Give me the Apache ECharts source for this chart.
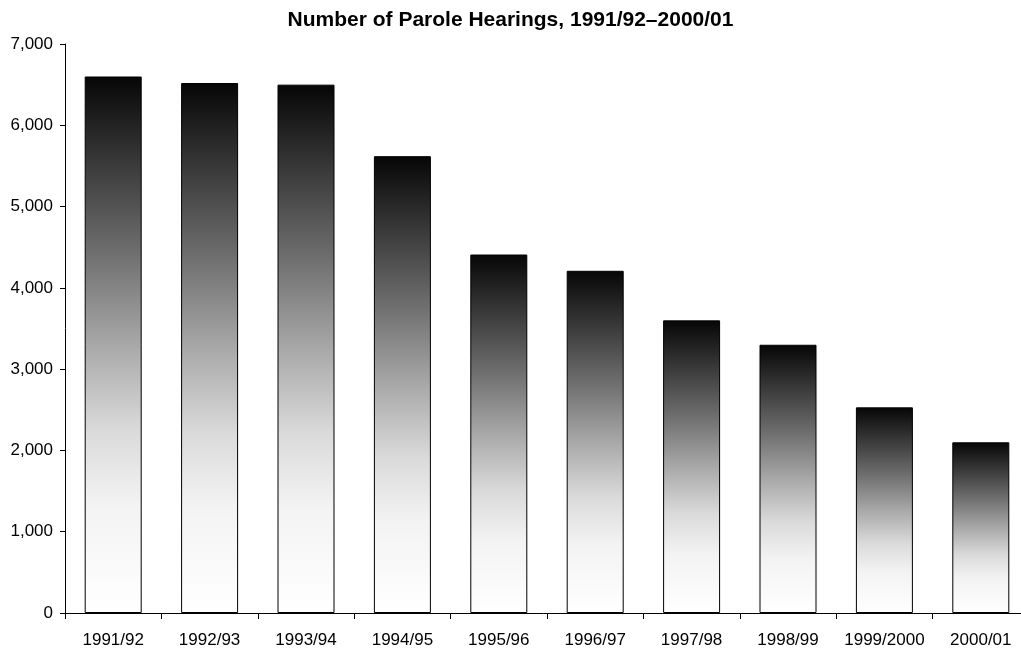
<!DOCTYPE html>
<html>
<head>
<meta charset="utf-8">
<script src="https://cdn.jsdelivr.net/npm/echarts@6/dist/echarts.min.js"></script>
<style>
  html, body { margin: 0; padding: 0; background: #fff; }
  #chart { width: 1021px; height: 649px; }
</style>
</head>
<body>
<div id="chart"></div>
<script>
// Fiscal years and number of parole hearings held in each
const categories = ['1991/92', '1992/93', '1993/94', '1994/95', '1995/96',
                    '1996/97', '1997/98', '1998/99', '1999/2000', '2000/01'];
const hearings = [6600, 6520, 6500, 5620, 4410, 4210, 3600, 3300, 2530, 2100];
const yTickValues = [0, 1000, 2000, 3000, 4000, 5000, 6000, 7000];

const chart = echarts.init(document.getElementById('chart'), null, { renderer: 'canvas' });

// Each bar fades from black at its top to white at its base
const barFill = {
  type: 'linear', x: 0, y: 0, x2: 0, y2: 1,
  colorStops: [
    { offset: 0, color: '#060606' },
    { offset: 0.33, color: '#6f6f6f' },
    { offset: 0.5, color: '#a8a8a8' },
    { offset: 0.66, color: '#dadada' },
    { offset: 0.8, color: '#f3f3f3' },
    { offset: 1, color: '#ffffff' }
  ]
};

const font = 'Liberation Sans, Arial, sans-serif';

chart.setOption({
  animation: false,
  backgroundColor: '#ffffff',
  title: {
    text: 'Number of Parole Hearings, 1991/92\u20132000/01',
    left: 'center',
    top: 5,
    textStyle: { fontFamily: font, fontSize: 21, fontWeight: 'bold', color: '#000' }
  },
  // the category axis runs a little past the right edge of the page
  grid: {
    left: 65, width: 964, top: 44, bottom: 36,
    containLabel: false, outerBoundsMode: 'none'
  },
  xAxis: {
    type: 'category',
    data: categories,
    axisLine: { show: true, lineStyle: { color: '#000', width: 1 } },
    axisTick: { show: true, length: 6, lineStyle: { color: '#000' } },
    axisLabel: { margin: 19, fontFamily: font, fontSize: 17, color: '#000', interval: 0 },
    splitLine: { show: false }
  },
  yAxis: {
    type: 'value',
    min: yTickValues[0],
    max: yTickValues[yTickValues.length - 1],
    interval: 1000,
    axisLine: { show: true, lineStyle: { color: '#000', width: 1 } },
    axisTick: { show: true, length: 5, lineStyle: { color: '#000' } },
    axisLabel: {
      margin: 12, fontFamily: font, fontSize: 17, color: '#000',
      formatter: v => v.toLocaleString('en-US')
    },
    splitLine: { show: false }
  },
  series: [{
    type: 'bar',
    data: hearings,
    barWidth: 57,
    itemStyle: { color: barFill, borderColor: '#000', borderWidth: 1 }
  }]
});
</script>
</body>
</html>
